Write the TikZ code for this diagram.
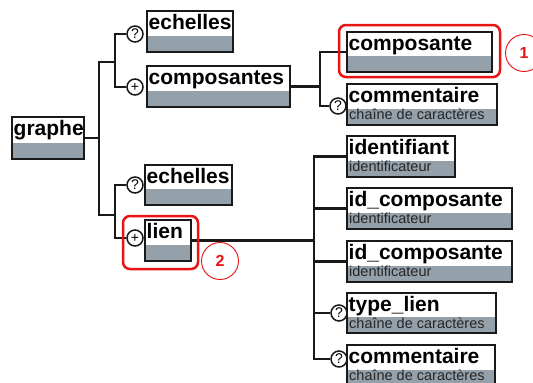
\documentclass[tikz,border=0pt]{standalone}
\usepackage{fontspec}
\setmainfont{Liberation Sans}
\definecolor{band}{RGB}{148,160,170}
\definecolor{ink}{RGB}{25,25,25}
\definecolor{mark}{RGB}{232,20,20}
\tikzset{
  elem/.style={draw=ink, line width=2pt, fill=white, inner sep=0pt, outer sep=0pt, anchor=north west},
  ttl/.style={font=\bfseries\fontsize{21}{22}\selectfont, anchor=base west, inner sep=0pt, text=black},
  subt/.style={font=\fontsize{14.5}{15}\selectfont, anchor=base west, inner sep=0pt, text=black!85},
  occ/.style={circle, draw=ink, line width=1.5pt, fill=white, minimum size=16pt, inner sep=0pt, font=\fontsize{14}{14}\selectfont},
  conn/.style={draw=ink, line width=2.2pt},
  hl/.style={draw=mark, line width=2.5pt, rounded corners=7pt, inner sep=0pt},
  num/.style={circle, draw=mark, line width=0.9pt, minimum size=37pt, inner sep=0pt, text=mark, font=\bfseries\fontsize{16}{16}\selectfont},
}
\newcommand\xel[7]{%
  \node[elem, minimum width=#4pt, minimum height=#5pt,
    path picture={\fill[band] ([yshift=-3pt]path picture bounding box.south west) rectangle ([yshift=16pt]path picture bounding box.south east);}] (#1) at (#2,#3) {};
  \node[ttl] (#1-t) at ([xshift=1.5pt,yshift=-18.5pt]#1.north west) {#6};
  \node[subt] (#1-s) at ([xshift=2pt,yshift=-35.5pt]#1.north west) {#7};
}
\begin{document}
\begin{tikzpicture}[x=1pt,y=-1pt]
\fill[white] (0,0) rectangle (533,383);
\useasboundingbox (0,0) rectangle (533,383);
% elements
\xel{graphe}{12}{117}{72}{42}{graphe}{}
\xel{ech1}{147}{11}{86}{41}{echelles}{}
\xel{comps}{147}{66}{143}{41}{composantes}{}
\xel{ech2}{145}{165}{87}{40}{echelles}{}
\xel{lien}{145}{220}{46}{41}{lien}{}
\xel{comp}{347}{32}{145}{40}{composante}{}
\xel{comm1}{347}{84}{150}{41}{commentaire}{chaîne de caractères}
\xel{ident}{347}{136}{108}{41}{identifiant}{identificateur}
\xel{idc1}{347}{188}{165}{41}{id\_composante}{identificateur}
\xel{idc2}{347}{241}{165}{41}{id\_composante}{identificateur}
\xel{typ}{347}{293}{149}{40}{type\_lien}{chaîne de caractères}
\xel{comm2}{347}{345}{148}{41}{commentaire}{chaîne de caractères}
% occurrence markers
\node[occ] (c1) at (135,34) {?};
\node[occ] (c2) at (135,87) {+};
\node[occ] (c3) at (338,106) {?};
\node[occ] (c4) at (135,185) {?};
\node[occ] (c5) at (135,238) {+};
\node[occ] (c6) at (339,313) {?};
\node[occ] (c7) at (339,359) {?};
% junction points
\coordinate (ja) at (99,62);
\coordinate (jb) at (99,215);
\coordinate (ka) at (115,62);
\coordinate (kb) at (115,215);
\coordinate (kc) at (320,86);
\coordinate (kd) at (314,240);
% connectors
\draw[conn] (graphe.east) -- (graphe.east -| ja);
\draw[conn] (ka) -- (ja) -- (jb) -- (kb);
\draw[conn] (c1.west) -| (ka) |- (c2.west);
\draw[conn] (c4.west) -| (kb) |- (c5.west);
\draw[conn] (comps.east) -- (comps.east -| kc);
\draw[conn] (comp.west) -| (kc) |- (c3.west);
\draw[conn] (lien.east) -- (lien.east -| kd);
\draw[conn] (ident.west) -| (kd) |- (c7.west);
\draw[conn] (idc1.west) -- (idc1.west -| kd);
\draw[conn] (idc2.west) -- (idc2.west -| kd);
\draw[conn] (c6.west) -- (c6.west -| kd);
% annotations
\node[hl, minimum width=161pt, minimum height=52pt] (h1) at (419.5,51) {};
\node[hl, minimum width=75pt, minimum height=53pt] (h2) at (160.5,242.5) {};
\node[num] (n1) at (524,53) {1};
\node[num] (n2) at (220,261) {2};
\end{tikzpicture}
\end{document}
